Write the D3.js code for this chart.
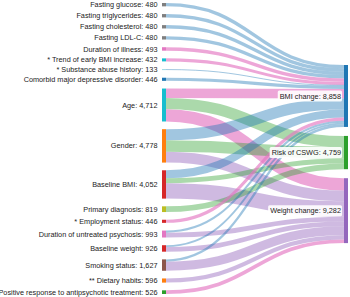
<!DOCTYPE html>
<html>
<head>
<meta charset="utf-8">
<script src="https://cdn.jsdelivr.net/npm/d3@7"></script>
<style>
  body { margin: 0; background: #fff; }
  svg { display: block; font-family: "Liberation Sans", Arial, Helvetica, sans-serif; }
</style>
</head>
<body>
<svg id="chart" width="350" height="297"></svg>
<script>
// ── Data ─────────────────────────────────────────────
const factors = [
  "Fasting glucose", "Fasting triglycerides", "Fasting cholesterol", "Fasting LDL-C",
  "Duration of illness", "* Trend of early BMI increase", "* Substance abuse history",
  "Comorbid major depressive disorder", "Age", "Gender", "Baseline BMI",
  "Primary diagnosis", "* Employment status", "Duration of untreated psychosis",
  "Baseline weight", "Smoking status", "** Dietary habits",
  "Positive response to antipsychotic treatment"
];
const factorColors = [
  "#7f7f7f", "#7f7f7f", "#7f7f7f", "#7f7f7f",
  "#e377c2", "#17becf", "#9edae5", "#1f77b4", "#17becf", "#ff7f0e", "#d62728",
  "#bcbd22", "#d62728", "#e377c2", "#d62728", "#8c564b", "#ff7f0e", "#2ca02c"
];
const outcomes = ["BMI change", "Risk of CSWG", "Weight change"];
const outcomeColors = ["#1f77b4", "#2ca02c", "#9467bd"];

// [factor, outcome, value, tone]
const flows = [
  ["Fasting glucose", "BMI change", 480, "blue"],
  ["Fasting triglycerides", "BMI change", 480, "blue"],
  ["Fasting cholesterol", "BMI change", 480, "blue"],
  ["Fasting LDL-C", "BMI change", 480, "blue"],
  ["Duration of illness", "BMI change", 493, "pink"],
  ["* Trend of early BMI increase", "BMI change", 432, "pink"],
  ["* Substance abuse history", "BMI change", 133, "blue"],
  ["Comorbid major depressive disorder", "BMI change", 446, "blue"],
  ["Age", "BMI change", 1350, "pink"],
  ["Age", "Risk of CSWG", 1600, "green"],
  ["Age", "Weight change", 1762, "pink"],
  ["Gender", "BMI change", 1600, "blue"],
  ["Gender", "Risk of CSWG", 1640, "green"],
  ["Gender", "Weight change", 1538, "purple"],
  ["Baseline BMI", "BMI change", 1150, "blue"],
  ["Baseline BMI", "Risk of CSWG", 700, "green"],
  ["Baseline BMI", "Weight change", 2202, "purple"],
  ["Primary diagnosis", "Risk of CSWG", 819, "green"],
  ["* Employment status", "BMI change", 446, "pink"],
  ["Duration of untreated psychosis", "BMI change", 300, "blue"],
  ["Duration of untreated psychosis", "Weight change", 693, "purple"],
  ["Baseline weight", "BMI change", 250, "blue"],
  ["Baseline weight", "Weight change", 676, "purple"],
  ["Smoking status", "BMI change", 338, "blue"],
  ["Smoking status", "Weight change", 1289, "purple"],
  ["** Dietary habits", "Weight change", 596, "purple"],
  ["Positive response to antipsychotic treatment", "Weight change", 526, "pink"]
];

const tones = ["blue", "green", "purple", "pink"];
const toneColors = ["#1f77b4", "#2ca02c", "#9467bd", "#e377c2"];
const toneOpacity = [0.42, 0.4, 0.45, 0.65];

// ── Layout ───────────────────────────────────────────
const svg = d3.select("#chart");
const nodeW = 4, leftX = 162, rightX = 344;
const yTop = 3, yBottom = 294, padL = 7.7, padR = 9, rightTop = 65;
const fmt = d3.format(",");

const total = d3.sum(flows, d => d[2]);
const ky = (yBottom - yTop - padL * (factors.length - 1)) / total;
const h = d3.scaleLinear().domain([0, total]).range([0, total * ky]);
const tone = d3.scaleOrdinal(tones, toneColors);
const toneOp = d3.scaleOrdinal(tones, toneOpacity);

function column(names, colors, x, y0, pad) {
  let y = y0;
  return names.map((name, i) => {
    const value = d3.sum(flows.filter(f => f[0] === name || f[1] === name), f => f[2]);
    const n = { name, value, color: colors[i], index: i, x0: x, x1: x + nodeW, y0: y, y1: y + h(value) };
    y = n.y1 + pad;
    return n;
  });
}
const leftNodes = column(factors, factorColors, leftX, yTop, padL);
const rightNodes = column(outcomes, outcomeColors, rightX, rightTop, padR);
const byName = new Map([...leftNodes, ...rightNodes].map(n => [n.name, n]));

const links = flows.map(([s, t, value, tn]) => ({ source: byName.get(s), target: byName.get(t), value, tone: tn }));

// offsets at the source: ordered by target; at the target: ordered by source
leftNodes.forEach(n => {
  let y = n.y0;
  links.filter(l => l.source === n)
    .sort((a, b) => a.target.index - b.target.index)
    .forEach(l => { l.w = h(l.value); l.sy = y + l.w / 2; y += l.w; });
});
rightNodes.forEach(n => {
  let y = n.y0;
  links.filter(l => l.target === n)
    .sort((a, b) => a.source.index - b.source.index)
    .forEach(l => { l.ty = y + l.w / 2; y += l.w; });
});

const path = d3.linkHorizontal()
  .source(d => [d.source.x1, d.sy])
  .target(d => [d.target.x0, d.ty]);

svg.append("g")
  .attr("fill", "none")
  .selectAll("path")
  .data(links)
  .join("path")
  .attr("d", path)
  .attr("stroke", d => tone(d.tone))
  .attr("stroke-opacity", d => toneOp(d.tone))
  .attr("stroke-width", d => Math.max(1, d.w));

svg.append("g")
  .selectAll("rect")
  .data([...leftNodes, ...rightNodes])
  .join("rect")
  .attr("x", d => d.x0)
  .attr("y", d => d.y0)
  .attr("width", d => d.x1 - d.x0)
  .attr("height", d => Math.max(1, d.y1 - d.y0))
  .attr("fill", d => d.color);

// left labels
svg.append("g")
  .attr("font-size", 7.3)
  .attr("fill", "#222")
  .selectAll("text")
  .data(leftNodes)
  .join("text")
  .attr("x", d => d.x0 - 4.5)
  .attr("y", d => (d.y0 + d.y1) / 2)
  .attr("dy", "0.35em")
  .attr("text-anchor", "end")
  .text(d => `${d.name}: ${fmt(d.value)}`);

// right labels with white boxes
const rl = svg.append("g")
  .attr("font-size", 7.3)
  .selectAll("g")
  .data(rightNodes)
  .join("g");
rl.append("rect").attr("fill", "#fff").attr("fill-opacity", 0.9).attr("rx", 1.5);
rl.append("text")
  .attr("x", d => d.x0 - 3)
  .attr("y", d => (d.y0 + d.y1) / 2)
  .attr("dy", "0.35em")
  .attr("text-anchor", "end")
  .attr("fill", "#222")
  .text(d => `${d.name}: ${fmt(d.value)}`);
rl.each(function() {
  const b = d3.select(this).select("text").node().getBBox();
  d3.select(this).select("rect")
    .attr("x", b.x - 2).attr("y", b.y - 1)
    .attr("width", b.width + 3).attr("height", b.height + 2);
});
</script>
</body>
</html>
